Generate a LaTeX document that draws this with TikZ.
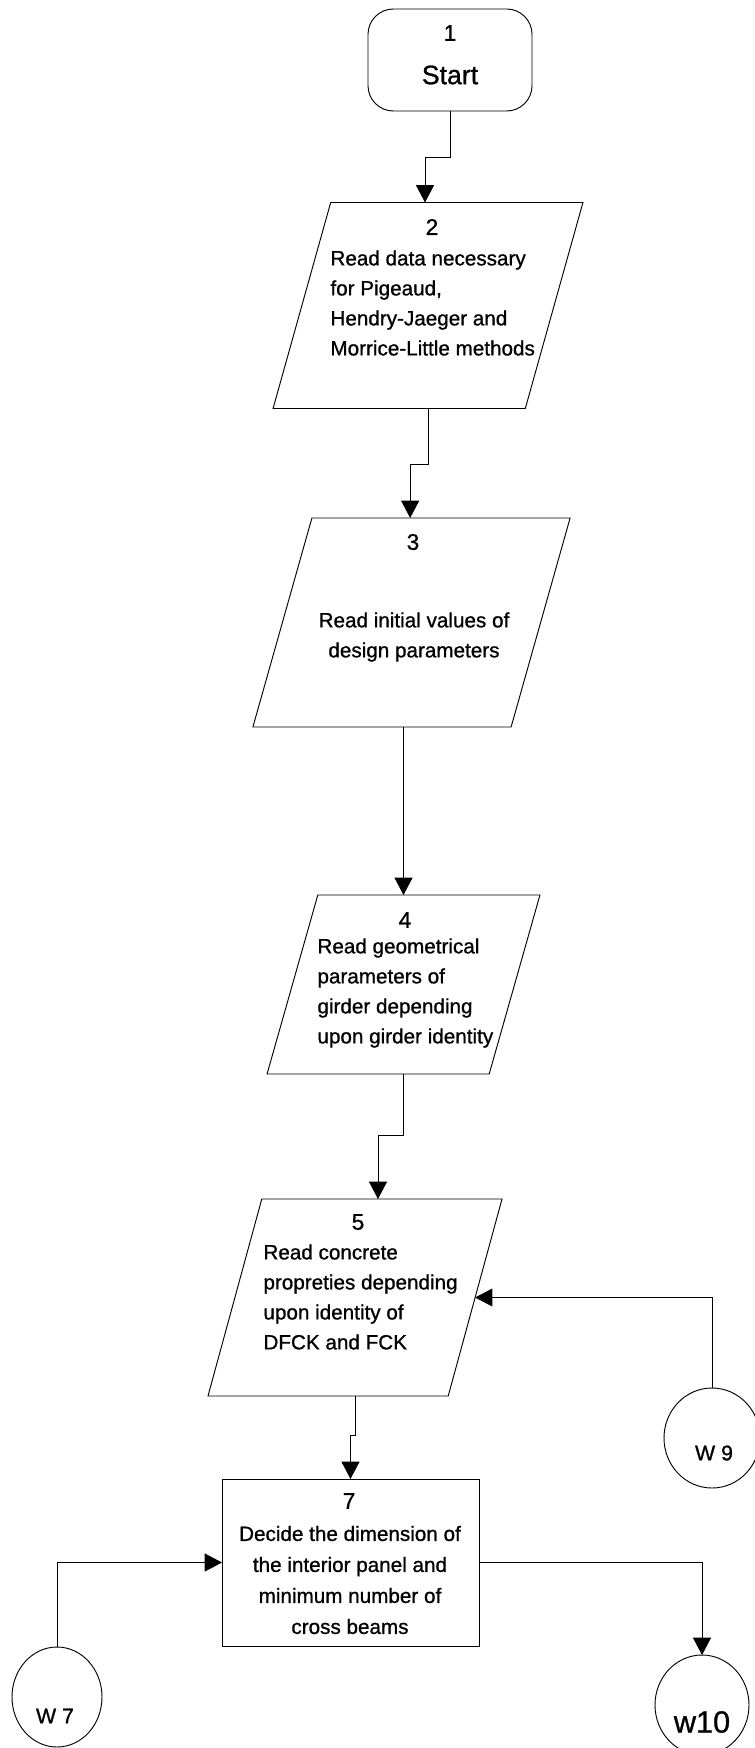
\documentclass[tikz,border=0pt]{standalone}
\usepackage{fontspec}
\setmainfont{Liberation Sans}[FakeBold=0.9]
\usetikzlibrary{shapes.geometric,arrows.meta}
\begin{document}
\begin{tikzpicture}[x=0.75pt,y=-0.75pt,
  line width=0.7pt,
  flow/.style={-{Triangle[length=13pt,width=13.5pt]}},
  iobox/.style={draw, trapezium, trapezium stretches=true,
    inner sep=2pt, outer sep=0pt},
  procbox/.style={draw, rectangle, inner sep=0pt, outer sep=0pt},
  termbox/.style={draw, rectangle, rounded corners=19pt, inner sep=0pt, outer sep=0pt},
  connbox/.style={draw, ellipse, inner sep=0pt, outer sep=0pt},
  numtext/.style={font=\fontsize{17}{20}\selectfont, inner sep=0pt},
  bodytext/.style={font=\fontsize{15.5}{22.5}\selectfont, inner sep=0pt},
  conntext/.style={font=\fontsize{16}{19}\selectfont, inner sep=0pt},
]
\fill[white] (0,0) rectangle (754,1748);
\useasboundingbox (0,0) rectangle (754,1748);

% terminal
\node[termbox, minimum width=123pt, minimum height=76.5pt] (n1) at (450,60) {};
\node[numtext] (t1a) at (450,33) {1};
\node[font=\fontsize{20}{24}\selectfont, inner sep=0pt] (t1b) at (450,75) {Start};

% input / output boxes
\node[iobox, trapezium left angle=73.5, trapezium right angle=106.5,
  minimum width=232.5pt, minimum height=154.5pt] (n2) at (428,305.5) {};
\node[numtext] (t2a) at (432,227) {2};
\node[bodytext, align=left, anchor=west] (t2b) at (330,303)
  {Read data necessary\\for Pigeaud,\\Hendry-Jaeger and\\Morrice-Little methods};

\node[iobox, trapezium left angle=73.5, trapezium right angle=106.5,
  minimum width=238pt, minimum height=156.75pt] (n3) at (411.5,622.5) {};
\node[numtext] (t3a) at (413,542) {3};
\node[bodytext, align=center] (t3b) at (414,637)
  {Read initial values of\\design parameters};

\node[iobox, trapezium left angle=73.5, trapezium right angle=106.5,
  minimum width=204.75pt, minimum height=134.25pt] (n4) at (403.5,984.5) {};
\node[numtext] (t4a) at (405,920) {4};
\node[bodytext, align=left, anchor=west] (t4b) at (317,993)
  {Read geometrical\\parameters of\\girder depending\\upon girder identity};

\node[iobox, trapezium left angle=73.9, trapezium right angle=106.1,
  minimum width=220.5pt, minimum height=147.75pt] (n5) at (355,1297.5) {};
\node[numtext] (t5a) at (358,1222) {5};
\node[bodytext, align=left, anchor=west] (t5b) at (263,1297)
  {Read concrete\\propreties depending\\upon identity of\\DFCK and FCK};

% process box
\node[procbox, minimum width=192.75pt, minimum height=125.25pt] (n7) at (350.5,1562.5) {};
\node[numtext] (t7a) at (349,1501) {7};
\node[bodytext, align=center, font=\fontsize{15.5}{23.25}\selectfont] (t7b) at (350,1580)
  {Decide the dimension of\\the interior panel and\\minimum number of\\cross beams};

% off-page connectors
\node[connbox, minimum width=72pt, minimum height=75pt] (w9) at (712,1438) {};
\node[conntext] (tw9) at (714,1453) {W 9};
\node[connbox, minimum width=67.5pt, minimum height=75pt] (w7) at (57,1697) {};
\node[conntext] (tw7) at (55,1716) {W 7};
\node[connbox, minimum width=70.5pt, minimum height=75pt] (w10) at (702,1705) {};
\node[font=\fontsize{23}{27}\selectfont, inner sep=0pt] (tw10) at (702,1722) {w10};

% flow lines
\draw[flow] (n1.south) -- ++(0,46) -| ([xshift=-2.25pt]n2.north);
\draw[flow] (n2.south) -- ++(0,56) -| ([xshift=-1pt]n3.north);
\draw[flow] (n4.north |- n3.south) -- (n4.north);
\draw[flow] (n4.south) -- ++(0,61) -| ([xshift=17.25pt]n5.north);
\draw[flow] (n5.south) -- ++(0,39) -| (n7.north);
\draw[flow] (w9.north) |- (n5.east);
\draw[flow] (w7.north) |- (n7.west);
\draw[flow] (n7.east) -| (w10.north);
\end{tikzpicture}
\end{document}
